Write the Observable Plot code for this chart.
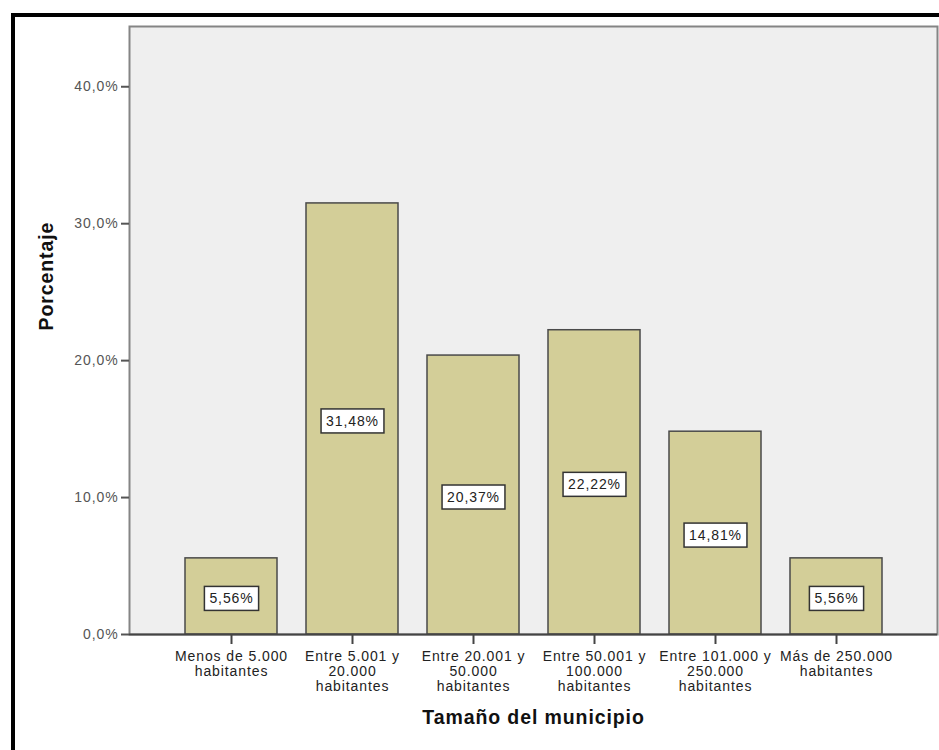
<!DOCTYPE html>
<html>
<head>
<meta charset="utf-8">
<script src="https://cdn.jsdelivr.net/npm/d3@7"></script>
<script src="https://cdn.jsdelivr.net/npm/@observablehq/plot@0.6"></script>
<style>
  html, body { margin: 0; padding: 0; background: #fff; }
  #wrap { position: relative; width: 939px; height: 750px; overflow: hidden; }
  #outer { position: absolute; left: 11px; top: 13px; width: 2000px; height: 2000px;
           border-left: 4px solid #000; border-top: 4px solid #000; box-sizing: border-box; pointer-events: none; }
  #chart { position: absolute; left: 0; top: 0; }
</style>
</head>
<body>
<div id="wrap"><div id="chart"></div><div id="outer"></div></div>
<script>
const categories = [
  "Menos de 5.000\nhabitantes",
  "Entre 5.001 y\n20.000\nhabitantes",
  "Entre 20.001 y\n50.000\nhabitantes",
  "Entre 50.001 y\n100.000\nhabitantes",
  "Entre 101.000 y\n250.000\nhabitantes",
  "Más de 250.000\nhabitantes"
];
const percentages = [5.56, 31.48, 20.37, 22.22, 14.81, 5.56];
const valueLabels = ["5,56%", "31,48%", "20,37%", "22,22%", "14,81%", "5,56%"];
const yTicks = [0, 10, 20, 30, 40];
const yTickLabels = ["0,0%", "10,0%", "20,0%", "30,0%", "40,0%"];
const xTitle = "Tamaño del municipio";
const yTitle = "Porcentaje";

const data = categories.map((c, i) => ({category: c, value: percentages[i], label: valueLabels[i]}));

const chart = Plot.plot({
  width: 939,
  height: 750,
  marginLeft: 129,
  marginRight: 2,
  marginTop: 26,
  marginBottom: 116,
  style: {fontFamily: "'Liberation Sans', Arial, sans-serif", fontSize: "14px", letterSpacing: "0.9px", background: "transparent", color: "#222"},
  x: {domain: categories, paddingInner: 0.243, paddingOuter: 0.45, label: null},
  y: {domain: [0, 44.4], label: null},
  marks: [
    Plot.frame({fill: "#efefef", stroke: "#858585", strokeWidth: 2}),
    Plot.barY(data, {x: "category", y: "value", fill: "#d3ce98", stroke: "#4a4a4a", strokeWidth: 1.5}),
    Plot.ruleY([0], {stroke: "#444", strokeWidth: 2}),
    Plot.axisY({ticks: yTicks, tickFormat: d => yTickLabels[yTicks.indexOf(d)], tickSize: 8, tickPadding: 3, stroke: "#555", strokeWidth: 2, fill: "#555", label: null}),
    Plot.axisX({tickSize: 10, tickPadding: 6, lineHeight: 1.07, stroke: "#444", strokeWidth: 2, fill: "#222", label: null}),
    Plot.text(data, {x: "category", y: d => d.value / 2, text: "label", dy: 2.5, fill: "#222"}),
    Plot.text([xTitle], {frameAnchor: "bottom", dy: 89, fontSize: 19.5, fontWeight: "bold", fill: "#111"}),
    Plot.text([yTitle], {frameAnchor: "left", dx: -83, rotate: -90, fontSize: 19.5, fontWeight: "bold", fill: "#111"})
  ]
});
document.getElementById("chart").appendChild(chart);

// white boxes behind the value labels
chart.querySelectorAll('g[aria-label="text"] text').forEach(t => {
  if (!/%$/.test(t.textContent)) return;
  const bb = t.getBBox();
  const padX = 5, padY = 5;
  const r = document.createElementNS("http://www.w3.org/2000/svg", "rect");
  r.setAttribute("x", bb.x - padX);
  r.setAttribute("y", bb.y - padY + 1);
  r.setAttribute("width", bb.width + 2 * padX);
  r.setAttribute("height", bb.height + 2 * padY - 2);
  r.setAttribute("fill", "#fff");
  r.setAttribute("stroke", "#333");
  r.setAttribute("stroke-width", 1.5);
  if (t.getAttribute("transform")) r.setAttribute("transform", t.getAttribute("transform"));
  t.parentNode.insertBefore(r, t);
});
</script>
</body>
</html>
